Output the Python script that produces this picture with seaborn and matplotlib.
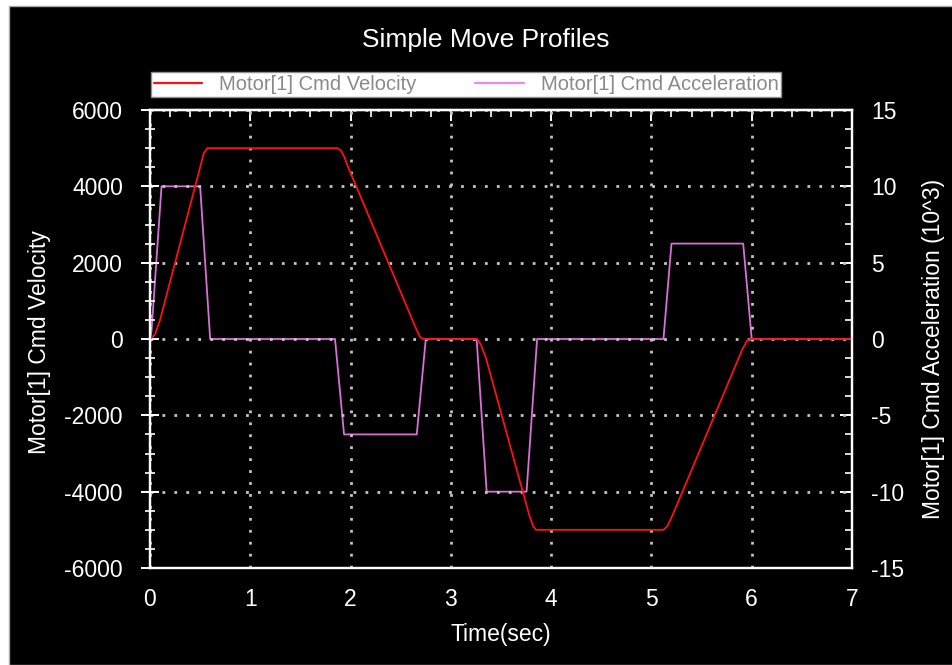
import numpy as np
import pandas as pd
import matplotlib
matplotlib.use("Agg")
import matplotlib.pyplot as plt
from matplotlib.patches import Rectangle
from matplotlib.ticker import MultipleLocator, NullFormatter
from matplotlib.lines import Line2D
import seaborn as sns

# Commanded velocity profile (time in s, velocity in counts/s)
vel_time = [0.0, 0.05, 0.10, 0.50, 0.535, 0.57, 1.87, 1.905, 1.94, 1.97, 2.64, 2.69, 2.72,
            3.26, 3.30, 3.35, 3.78, 3.82, 3.85, 5.12, 5.16, 5.21,
            5.91, 5.955, 5.99, 7.0]
vel_value = [0, 120, 500, 4500, 4860, 5000, 5000, 4940, 4760, 4540, 350, 60, 0,
             0, -150, -500, -4600, -4900, -5000, -5000, -4900, -4620,
             -250, -40, 0, 0]

# Commanded acceleration profile (time in s, acceleration in 10^3 counts/s^2)
acc_time = [0.0, 0.015, 0.115, 0.50, 0.60, 1.845, 1.935, 2.66, 2.75, 3.257, 3.357,
            3.755, 3.86, 5.12, 5.20, 5.915, 6.0, 7.0]
acc_value = [0, 0.5, 10, 10, 0, 0, -6.25, -6.25, 0, 0, -10,
             -10, 0, 0, 6.25, 6.25, 0, 0]

title = "Simple Move Profiles"
vel_label = "Motor[1] Cmd Velocity"
acc_label = "Motor[1] Cmd Acceleration"
x_label = "Time(sec)"
acc_axis_label = "Motor[1] Cmd Acceleration (10^3)"

vel_df = pd.DataFrame({"t": vel_time, "v": vel_value})
acc_df = pd.DataFrame({"t": acc_time, "a": acc_value})

sns.set_style("dark", {"axes.facecolor": "black", "figure.facecolor": "white"})
plt.rcParams["font.family"] = ["Liberation Sans", "DejaVu Sans"]
plt.rcParams["axes.unicode_minus"] = False

W, H = 953, 665
fig = plt.figure(figsize=(W / 100, H / 100), dpi=100)
fig.patches.append(Rectangle((9 / W, 0), 1 - 9 / W, 1 - 6 / H, transform=fig.transFigure,
                             facecolor="black", edgecolor="#a8a8a8", linewidth=1, zorder=0))

ax = fig.add_axes([150 / W, (H - 568) / H, 702 / W, 458 / H])
ax2 = ax.twinx()
# velocity axes drawn above the acceleration axes, transparent so both show
ax.set_zorder(3)
ax.patch.set_visible(False)
ax2.set_zorder(2)
ax2.set_facecolor("black")

VEL_COLOR = "#ff1010"
ACC_COLOR = "#dc6ed8"

sns.lineplot(data=vel_df, x="t", y="v", ax=ax, color=VEL_COLOR, linewidth=1.3)
sns.lineplot(data=acc_df, x="t", y="a", ax=ax2, color=ACC_COLOR, linewidth=1.3)

ax.set_xlim(0, 7)
ax.set_ylim(-6000, 6000)
ax2.set_ylim(-15, 15)

ax.xaxis.set_major_locator(MultipleLocator(1))
ax.xaxis.set_minor_locator(MultipleLocator(0.2))
ax.yaxis.set_major_locator(MultipleLocator(2000))
ax.yaxis.set_minor_locator(MultipleLocator(500))
ax2.yaxis.set_major_locator(MultipleLocator(5))
ax2.yaxis.set_minor_locator(MultipleLocator(1.25))

ax.grid(True, which="major", color="#c4c4c4", linestyle=(0, (1, 3.3)), linewidth=2.0)
ax2.grid(False)

for a in (ax, ax2):
    for s in a.spines.values():
        s.set_color("white")
        s.set_linewidth(1.6)
        s.set_visible(True)

ax.tick_params(axis="x", which="major", direction="inout", length=12, width=1.4,
               colors="white", labelsize=16.5, pad=8.5)
ax.tick_params(axis="x", which="minor", direction="inout", length=7, width=1.2,
               colors="white")
ax.tick_params(axis="y", which="major", direction="inout", length=13, width=1.4,
               colors="white", labelsize=16.5, pad=13)
ax.tick_params(axis="y", which="minor", direction="inout", length=7, width=1.2, colors="white")
ax2.tick_params(axis="y", which="major", direction="in", length=9, width=1.4,
                colors="white", labelsize=16.5, pad=14)
ax2.tick_params(axis="y", which="minor", direction="in", length=5, width=1.2, colors="white")

# inward ticks along the top edge
top = ax.secondary_xaxis("top")
top.xaxis.set_major_locator(MultipleLocator(1))
top.xaxis.set_minor_locator(MultipleLocator(0.2))
top.xaxis.set_major_formatter(NullFormatter())
top.tick_params(axis="x", which="major", direction="in", length=8, width=1.4, colors="white")
top.tick_params(axis="x", which="minor", direction="in", length=5, width=1.2, colors="white")
top.spines["top"].set_color("white")
top.spines["top"].set_linewidth(1.6)

ax.set_xlabel("")
ax.set_ylabel("")
ax2.set_ylabel("")

fig.text(486 / W, 1 - 40 / H, title, color="white", fontsize=19, ha="center", va="center")
fig.text(501 / W, 1 - 635 / H, x_label, color="white", fontsize=16.5, ha="center", va="center")
fig.text(40 / W, 1 - 342 / H, vel_label, color="white", fontsize=16.5, rotation=90,
         ha="center", va="center")
fig.text(934 / W, 1 - 349 / H, acc_axis_label, color="white", fontsize=16.5, rotation=90,
         ha="center", va="center")

handles = [Line2D([], [], color=VEL_COLOR, linewidth=1.6),
           Line2D([], [], color="#ee88ee", linewidth=1.6)]
leg = fig.legend(handles, [vel_label, acc_label], loc="lower left",
                 bbox_to_anchor=(151 / W, 1 - 97 / H), ncol=2, fontsize=14.5,
                 frameon=True, fancybox=False, framealpha=1, facecolor="white",
                 edgecolor="#909090", borderpad=0.15, handlelength=2.4, handletextpad=0.85,
                 columnspacing=2.9, borderaxespad=0)
leg.get_frame().set_linewidth(1)
for t in leg.get_texts():
    t.set_color("#8a8a8a")

fig.savefig("out.png", dpi=100, facecolor=fig.get_facecolor())
